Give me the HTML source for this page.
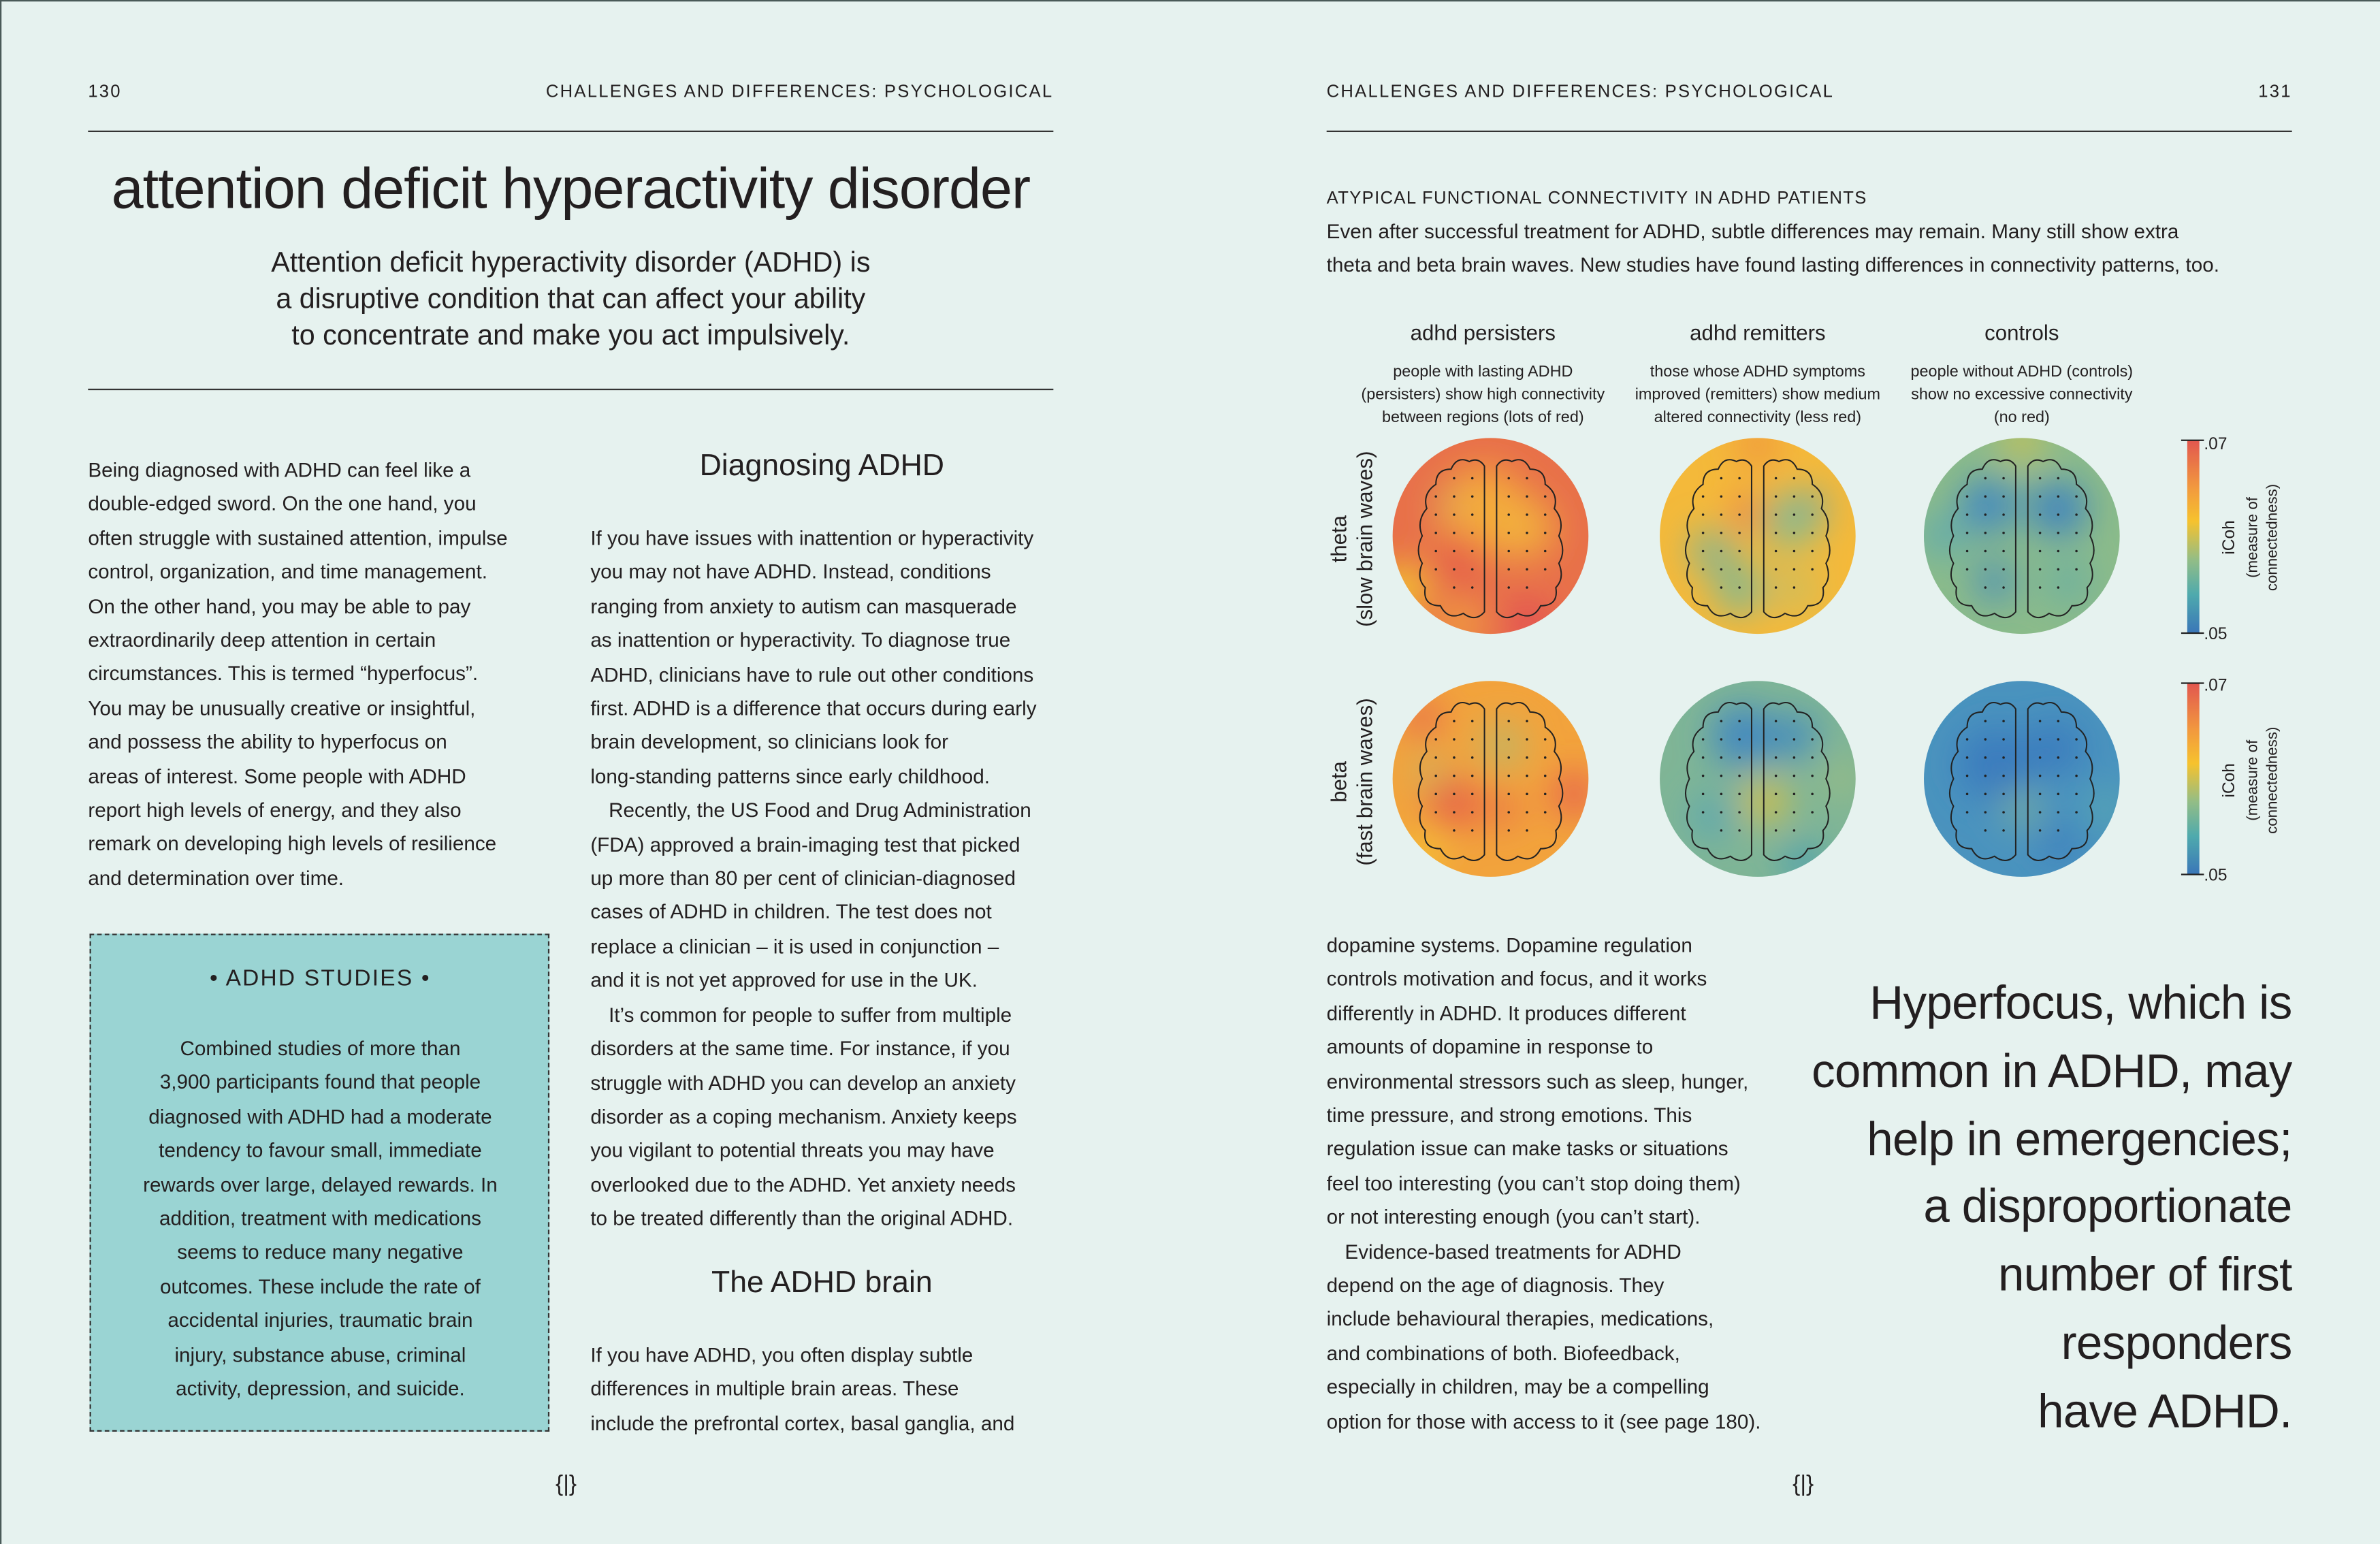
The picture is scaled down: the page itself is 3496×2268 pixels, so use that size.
<!DOCTYPE html>
<html><head><meta charset="utf-8">
<style>
html,body{margin:0;padding:0;background:#e6f2ef;}
#wrap{width:3496px;height:2268px;overflow:hidden;position:relative;background:#e6f2ef;}
#pg{position:absolute;left:0;top:0;width:1568px;height:1017px;transform:scale(2.2296,2.2301);transform-origin:0 0;font-family:"Liberation Sans",sans-serif;color:#231f20;}
.a{position:absolute;white-space:nowrap;}
.hdr{font-size:11.5px;letter-spacing:1px;}
.rule{position:absolute;height:1px;background:#333;}
.body{font-size:13.3px;line-height:22.4px;}
.body div{white-space:nowrap;}
.ind{padding-left:12px;}
.c{text-align:center;}
</style></head><body>
<div id="wrap"><div id="pg">
<div style="position:absolute;left:0;top:0;width:1567px;height:1016px;border:1px solid #4a5a58;border-right:none;border-bottom:none;"></div>
<!-- left page header -->
<div class="a hdr" style="left:58px;top:55px;">130</div>
<div class="a hdr" style="right:874px;top:55px;">CHALLENGES AND DIFFERENCES: PSYCHOLOGICAL</div>
<div class="rule" style="left:58px;top:86px;width:636px;"></div>
<div class="a c" style="left:58px;width:636px;top:104px;font-size:38px;letter-spacing:-0.5px;">attention deficit hyperactivity disorder</div>
<div class="a c" style="left:58px;width:636px;top:161px;font-size:18.5px;line-height:24px;">Attention deficit hyperactivity disorder (ADHD) is<br>a disruptive condition that can affect your ability<br>to concentrate and make you act impulsively.</div>
<div class="rule" style="left:58px;top:256px;width:636px;"></div>

<div class="a body" style="left:58px;top:299px;">
<div>Being diagnosed with ADHD can feel like a</div>
<div>double-edged sword. On the one hand, you</div>
<div>often struggle with sustained attention, impulse</div>
<div>control, organization, and time management.</div>
<div>On the other hand, you may be able to pay</div>
<div>extraordinarily deep attention in certain</div>
<div>circumstances. This is termed “hyperfocus”.</div>
<div>You may be unusually creative or insightful,</div>
<div>and possess the ability to hyperfocus on</div>
<div>areas of interest. Some people with ADHD</div>
<div>report high levels of energy, and they also</div>
<div>remark on developing high levels of resilience</div>
<div>and determination over time.</div>
</div>

<div style="position:absolute;left:59px;top:615px;width:301px;height:326px;background:#9ad4d3;border:1.5px dashed #333;"></div>
<div class="a c" style="left:59px;width:304px;top:636px;font-size:15px;letter-spacing:1px;">• ADHD STUDIES •</div>
<div class="a body c" style="left:59px;width:304px;top:680px;">
<div>Combined studies of more than</div>
<div>3,900 participants found that people</div>
<div>diagnosed with ADHD had a moderate</div>
<div>tendency to favour small, immediate</div>
<div>rewards over large, delayed rewards. In</div>
<div>addition, treatment with medications</div>
<div>seems to reduce many negative</div>
<div>outcomes. These include the rate of</div>
<div>accidental injuries, traumatic brain</div>
<div>injury, substance abuse, criminal</div>
<div>activity, depression, and suicide.</div>
</div>

<div class="a c" style="left:389px;width:305px;top:296px;font-size:20px;">Diagnosing ADHD</div>
<div class="a body" style="left:389px;top:344px;">
<div>If you have issues with inattention or hyperactivity</div>
<div>you may not have ADHD. Instead, conditions</div>
<div>ranging from anxiety to autism can masquerade</div>
<div>as inattention or hyperactivity. To diagnose true</div>
<div>ADHD, clinicians have to rule out other conditions</div>
<div>first. ADHD is a difference that occurs during early</div>
<div>brain development, so clinicians look for</div>
<div>long-standing patterns since early childhood.</div>
<div class="ind">Recently, the US Food and Drug Administration</div>
<div>(FDA) approved a brain-imaging test that picked</div>
<div>up more than 80 per cent of clinician-diagnosed</div>
<div>cases of ADHD in children. The test does not</div>
<div>replace a clinician – it is used in conjunction –</div>
<div>and it is not yet approved for use in the UK.</div>
<div class="ind">It’s common for people to suffer from multiple</div>
<div>disorders at the same time. For instance, if you</div>
<div>struggle with ADHD you can develop an anxiety</div>
<div>disorder as a coping mechanism. Anxiety keeps</div>
<div>you vigilant to potential threats you may have</div>
<div>overlooked due to the ADHD. Yet anxiety needs</div>
<div>to be treated differently than the original ADHD.</div>
</div>
<div class="a c" style="left:389px;width:305px;top:834px;font-size:20px;">The ADHD brain</div>
<div class="a body" style="left:389px;top:882px;">
<div>If you have ADHD, you often display subtle</div>
<div>differences in multiple brain areas. These</div>
<div>include the prefrontal cortex, basal ganglia, and</div>
</div>
<div class="a" style="left:366px;top:969px;font-size:15px;">{|}</div>

<!-- right page -->
<div class="a hdr" style="left:874px;top:55px;">CHALLENGES AND DIFFERENCES: PSYCHOLOGICAL</div>
<div class="a hdr" style="right:58px;top:55px;">131</div>
<div class="rule" style="left:874px;top:86px;width:636px;"></div>
<div class="a" style="left:874px;top:125px;font-size:11.5px;letter-spacing:0.6px;">ATYPICAL FUNCTIONAL CONNECTIVITY IN ADHD PATIENTS</div>
<div class="a body" style="left:874px;top:142px;">
<div>Even after successful treatment for ADHD, subtle differences may remain. Many still show extra</div>
<div>theta and beta brain waves. New studies have found lasting differences in connectivity patterns, too.</div>
</div>

<div class="a c" style="left:897px;width:160px;top:211px;font-size:14px;">adhd persisters</div>
<div class="a c" style="left:1078px;width:160px;top:211px;font-size:14px;">adhd remitters</div>
<div class="a c" style="left:1252px;width:160px;top:211px;font-size:14px;">controls</div>
<div class="a c" style="left:887px;width:180px;top:238px;font-size:10.5px;line-height:15px;">people with lasting ADHD<br>(persisters) show high connectivity<br>between regions (lots of red)</div>
<div class="a c" style="left:1068px;width:180px;top:238px;font-size:10.5px;line-height:15px;">those whose ADHD symptoms<br>improved (remitters) show medium<br>altered connectivity (less red)</div>
<div class="a c" style="left:1242px;width:180px;top:238px;font-size:10.5px;line-height:15px;">people without ADHD (controls)<br>show no excessive connectivity<br>(no red)</div>

<svg style="position:absolute;left:0;top:0" width="1568" height="1017">
<defs>
<filter id="bl" x="-50%" y="-50%" width="200%" height="200%"><feGaussianBlur stdDeviation="12"/></filter>
<clipPath id="cc"><circle cx="0" cy="0" r="64.5"/></clipPath>
<linearGradient id="cb" x1="0" y1="0" x2="0" y2="1">
<stop offset="0" stop-color="#e2574f"/><stop offset="0.25" stop-color="#f29a3e"/><stop offset="0.42" stop-color="#f6c22e"/><stop offset="0.62" stop-color="#93bd86"/><stop offset="0.8" stop-color="#4faaad"/><stop offset="1" stop-color="#3a76b8"/>
</linearGradient>
<g id="brain" fill="none" stroke="#222" stroke-width="0.9">
<path d="M-4,-46 Q-8,-52 -14,-49 Q-22,-53 -26,-44 Q-36,-44 -36,-34 Q-45,-28 -42,-18 Q-49,-10 -45,0 Q-50,10 -45,18 Q-49,28 -43,34 Q-45,46 -33,46 Q-28,56 -18,51 Q-10,57 -4,50 Z"/>
<path d="M-4,-46 Q-8,-52 -14,-49 Q-22,-53 -26,-44 Q-36,-44 -36,-34 Q-45,-28 -42,-18 Q-49,-10 -45,0 Q-50,10 -45,18 Q-49,28 -43,34 Q-45,46 -33,46 Q-28,56 -18,51 Q-10,57 -4,50 Z" transform="scale(-1,1)"/>
<g fill="#222" stroke="none">
<circle cx="-24" cy="-38" r=".8"/><circle cx="-12" cy="-38" r=".8"/><circle cx="12" cy="-38" r=".8"/><circle cx="24" cy="-38" r=".8"/>
<circle cx="-36" cy="-26" r=".8"/><circle cx="-24" cy="-26" r=".8"/><circle cx="-12" cy="-26" r=".8"/><circle cx="12" cy="-26" r=".8"/><circle cx="24" cy="-26" r=".8"/><circle cx="36" cy="-26" r=".8"/>
<circle cx="-36" cy="-14" r=".8"/><circle cx="-24" cy="-14" r=".8"/><circle cx="-12" cy="-14" r=".8"/><circle cx="12" cy="-14" r=".8"/><circle cx="24" cy="-14" r=".8"/><circle cx="36" cy="-14" r=".8"/>
<circle cx="-36" cy="-2" r=".8"/><circle cx="-24" cy="-2" r=".8"/><circle cx="-12" cy="-2" r=".8"/><circle cx="12" cy="-2" r=".8"/><circle cx="24" cy="-2" r=".8"/><circle cx="36" cy="-2" r=".8"/>
<circle cx="-36" cy="10" r=".8"/><circle cx="-24" cy="10" r=".8"/><circle cx="-12" cy="10" r=".8"/><circle cx="12" cy="10" r=".8"/><circle cx="24" cy="10" r=".8"/><circle cx="36" cy="10" r=".8"/>
<circle cx="-36" cy="22" r=".8"/><circle cx="-24" cy="22" r=".8"/><circle cx="-12" cy="22" r=".8"/><circle cx="12" cy="22" r=".8"/><circle cx="24" cy="22" r=".8"/><circle cx="36" cy="22" r=".8"/>
<circle cx="-24" cy="34" r=".8"/><circle cx="-12" cy="34" r=".8"/><circle cx="12" cy="34" r=".8"/><circle cx="24" cy="34" r=".8"/>
</g></g>
</defs>

<g transform="translate(982,353)"><g clip-path="url(#cc)">
<rect x="-70" y="-70" width="140" height="140" fill="#e8704a"/>
<g filter="url(#bl)"><circle cx="-5" cy="-15" r="30" fill="#f4aa3a"/><circle cx="22" cy="-5" r="20" fill="#f2b03c"/><circle cx="-58" cy="35" r="16" fill="#f4d02c"/><circle cx="-20" cy="15" r="16" fill="#e65a48"/><circle cx="-20" cy="58" r="14" fill="#f2a83c"/><circle cx="25" cy="58" r="14" fill="#e24a55"/><circle cx="-28" cy="-22" r="8" fill="#d2b060"/></g>
</g><use href="#brain"/></g>
<g transform="translate(1158,353)"><g clip-path="url(#cc)">
<rect x="-70" y="-70" width="140" height="140" fill="#f4b93a"/>
<g filter="url(#bl)"><circle cx="-30" cy="10" r="14" fill="#7cb49a"/><circle cx="-12" cy="35" r="16" fill="#7db795"/><circle cx="22" cy="-10" r="18" fill="#8bbb8c"/><circle cx="36" cy="-20" r="9" fill="#5fa7b0"/><circle cx="-6" cy="-15" r="10" fill="#ea6a4c"/><circle cx="25" cy="35" r="14" fill="#c9be60"/><circle cx="0" cy="-60" r="14" fill="#f0943e"/></g>
</g><use href="#brain"/></g>
<g transform="translate(1332,353)"><g clip-path="url(#cc)">
<rect x="-70" y="-70" width="140" height="140" fill="#8bbb8a"/>
<g filter="url(#bl)"><circle cx="-22" cy="-20" r="18" fill="#3f86c2"/><circle cx="24" cy="-18" r="18" fill="#3b80c2"/><circle cx="-18" cy="30" r="12" fill="#3f86c2"/><circle cx="0" cy="-62" r="12" fill="#d8c24a"/><circle cx="-52" cy="0" r="14" fill="#5eaab0"/><circle cx="30" cy="30" r="16" fill="#6eb0a0"/></g>
</g><use href="#brain"/></g>
<g transform="translate(982,513)"><g clip-path="url(#cc)">
<rect x="-70" y="-70" width="140" height="140" fill="#f2a33c"/>
<g filter="url(#bl)"><circle cx="-24" cy="16" r="16" fill="#e65a48"/><circle cx="8" cy="20" r="10" fill="#e8654a"/><circle cx="8" cy="-22" r="14" fill="#b9b86a"/><circle cx="-40" cy="-5" r="10" fill="#c4b866"/><circle cx="55" cy="10" r="14" fill="#e65a50"/><circle cx="-45" cy="-40" r="12" fill="#e66450"/><circle cx="-45" cy="50" r="12" fill="#f6cf2e"/></g>
</g><use href="#brain"/></g>
<g transform="translate(1158,513)"><g clip-path="url(#cc)">
<rect x="-70" y="-70" width="140" height="140" fill="#7fb596"/>
<g filter="url(#bl)"><circle cx="-10" cy="-28" r="20" fill="#3f86c2"/><circle cx="24" cy="-28" r="14" fill="#3e86c2"/><circle cx="5" cy="15" r="14" fill="#e0c040"/><circle cx="-30" cy="25" r="14" fill="#5aa6b2"/><circle cx="30" cy="55" r="12" fill="#3c9ab8"/><circle cx="55" cy="0" r="12" fill="#9fbd80"/></g>
</g><use href="#brain"/></g>
<g transform="translate(1332,513)"><g clip-path="url(#cc)">
<rect x="-70" y="-70" width="140" height="140" fill="#4a93be"/>
<g filter="url(#bl)"><circle cx="-18" cy="-10" r="24" fill="#3b7cbe"/><circle cx="22" cy="-20" r="18" fill="#3b7cbe"/><circle cx="0" cy="20" r="10" fill="#8dbb8e"/><circle cx="25" cy="42" r="12" fill="#3b7cbe"/><circle cx="55" cy="20" r="12" fill="#5aaab0"/></g>
</g><use href="#brain"/></g>

<rect x="1441" y="290" width="8" height="127" fill="url(#cb)"/>
<line x1="1437" y1="290" x2="1452" y2="290" stroke="#222" stroke-width="1"/>
<line x1="1437" y1="417" x2="1452" y2="417" stroke="#222" stroke-width="1"/>
<rect x="1441" y="450" width="8" height="126" fill="url(#cb)"/>
<line x1="1437" y1="450" x2="1452" y2="450" stroke="#222" stroke-width="1"/>
<line x1="1437" y1="576" x2="1452" y2="576" stroke="#222" stroke-width="1"/>
<g font-family="Liberation Sans, sans-serif" font-size="11" fill="#231f20">
<text x="1452" y="296">.07</text><text x="1452" y="421">.05</text>
<text x="1452" y="455">.07</text><text x="1452" y="580">.05</text>
<text transform="translate(1472,354) rotate(-90)" text-anchor="middle" font-size="11">iCoh</text>
<text transform="translate(1487,354) rotate(-90)" text-anchor="middle" font-size="10">(measure of</text>
<text transform="translate(1500,354) rotate(-90)" text-anchor="middle" font-size="10">connectedness)</text>
<text transform="translate(1472,514) rotate(-90)" text-anchor="middle" font-size="11">iCoh</text>
<text transform="translate(1487,514) rotate(-90)" text-anchor="middle" font-size="10">(measure of</text>
<text transform="translate(1500,514) rotate(-90)" text-anchor="middle" font-size="10">connectedness)</text>
<text transform="translate(887,355) rotate(-90)" text-anchor="middle" font-size="14">theta</text>
<text transform="translate(904,355) rotate(-90)" text-anchor="middle" font-size="14">(slow brain waves)</text>
<text transform="translate(887,515) rotate(-90)" text-anchor="middle" font-size="14">beta</text>
<text transform="translate(904,515) rotate(-90)" text-anchor="middle" font-size="14">(fast brain waves)</text>
</g>
</svg>

<div class="a body" style="left:874px;top:612px;">
<div>dopamine systems. Dopamine regulation</div>
<div>controls motivation and focus, and it works</div>
<div>differently in ADHD. It produces different</div>
<div>amounts of dopamine in response to</div>
<div>environmental stressors such as sleep, hunger,</div>
<div>time pressure, and strong emotions. This</div>
<div>regulation issue can make tasks or situations</div>
<div>feel too interesting (you can’t stop doing them)</div>
<div>or not interesting enough (you can’t start).</div>
<div class="ind">Evidence-based treatments for ADHD</div>
<div>depend on the age of diagnosis. They</div>
<div>include behavioural therapies, medications,</div>
<div>and combinations of both. Biofeedback,</div>
<div>especially in children, may be a compelling</div>
<div>option for those with access to it (see page 180).</div>
</div>
<div class="a" style="right:58px;top:639px;text-align:right;font-size:31px;line-height:44.8px;letter-spacing:-0.3px;">Hyperfocus, which is<br>common in ADHD, may<br>help in emergencies;<br>a disproportionate<br>number of first<br>responders<br>have ADHD.</div>
<div class="a" style="left:1181px;top:969px;font-size:15px;">{|}</div>
</div></div>
</body></html>
